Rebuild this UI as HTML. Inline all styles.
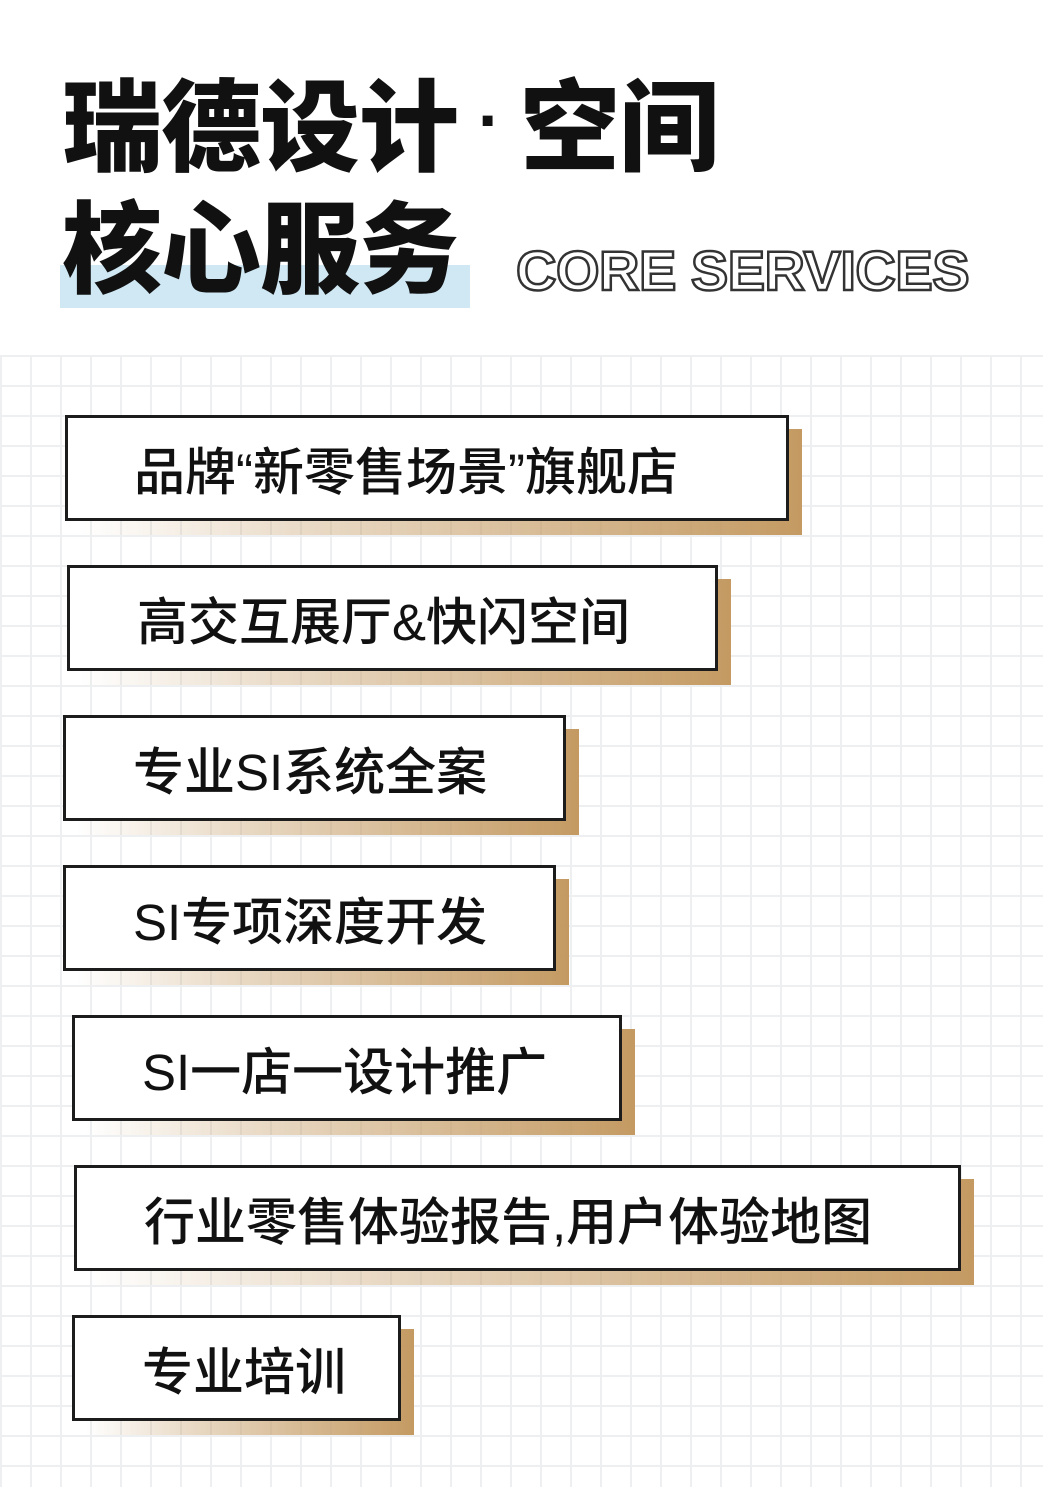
<!DOCTYPE html>
<html><head><meta charset="utf-8"><style>
*{margin:0;padding:0;box-sizing:border-box}
body{width:1043px;height:1487px;background:#fff;position:relative;overflow:hidden;font-family:"Liberation Sans","Noto Sans CJK SC",sans-serif}
.grid{position:absolute;left:0;top:355px;width:1043px;height:1132px;
background-image:linear-gradient(#edeff1 2px,transparent 2px),linear-gradient(90deg,#edeff1 2px,transparent 2px);
background-size:30px 30px;background-position:0 0,0 0}
.t{position:absolute;font-weight:900;color:#111;font-family:"Noto Sans CJK SC",sans-serif;white-space:nowrap;letter-spacing:-1px}
.hl{position:absolute;left:60px;top:265px;width:410px;height:43px;background:#cfe8f4}
.core{position:absolute;left:516px;top:238px;font-family:"Liberation Sans",sans-serif;font-weight:bold;font-size:56px;color:#fff;-webkit-text-stroke:2.5px #333;letter-spacing:-0.5px;white-space:nowrap}
.sh{position:absolute;background:linear-gradient(90deg,rgba(196,154,98,0) 0%,rgba(196,154,98,.35) 30%,#c49a62 100%)}
.b{position:absolute;background:#fff;border:3px solid #1c1c1c;height:106px}
.b span{position:absolute;top:50%;transform:translateY(-50%);font-family:"Liberation Sans","Noto Sans CJK SC",sans-serif;font-size:51px;color:#111;white-space:nowrap;font-weight:500}
</style></head><body>
<div class="grid"></div>
<div class="t" style="left:62px;top:60px;font-size:100px;line-height:120px">瑞德设计<span style="display:inline-block;width:62px;text-align:center;font-family:'Liberation Sans';font-size:70px;vertical-align:top">·</span>空间</div>
<div class="hl"></div>
<div class="t" style="left:62px;top:182px;font-size:100px;line-height:120px">核心服务</div>
<div class="core">CORE SERVICES</div>

<div class="sh" style="left:79px;top:429px;width:723px;height:106px"></div>
<div class="b" style="left:65px;top:415px;width:724px"><span style="left:66px">品牌“新零售场景”旗舰店</span></div>

<div class="sh" style="left:81px;top:579px;width:650px;height:106px"></div>
<div class="b" style="left:67px;top:565px;width:651px"><span style="left:67px">高交互展厅&amp;快闪空间</span></div>

<div class="sh" style="left:77px;top:729px;width:502px;height:106px"></div>
<div class="b" style="left:63px;top:715px;width:503px"><span style="left:67px">专业SI系统全案</span></div>

<div class="sh" style="left:77px;top:879px;width:492px;height:106px"></div>
<div class="b" style="left:63px;top:865px;width:493px"><span style="left:67px">SI专项深度开发</span></div>

<div class="sh" style="left:86px;top:1029px;width:549px;height:106px"></div>
<div class="b" style="left:72px;top:1015px;width:550px"><span style="left:67px">SI一店一设计推广</span></div>

<div class="sh" style="left:88px;top:1179px;width:886px;height:106px"></div>
<div class="b" style="left:74px;top:1165px;width:887px"><span style="left:67px">行业零售体验报告,用户体验地图</span></div>

<div class="sh" style="left:86px;top:1329px;width:328px;height:106px"></div>
<div class="b" style="left:72px;top:1315px;width:329px"><span style="left:67px">专业培训</span></div>
</body></html>
